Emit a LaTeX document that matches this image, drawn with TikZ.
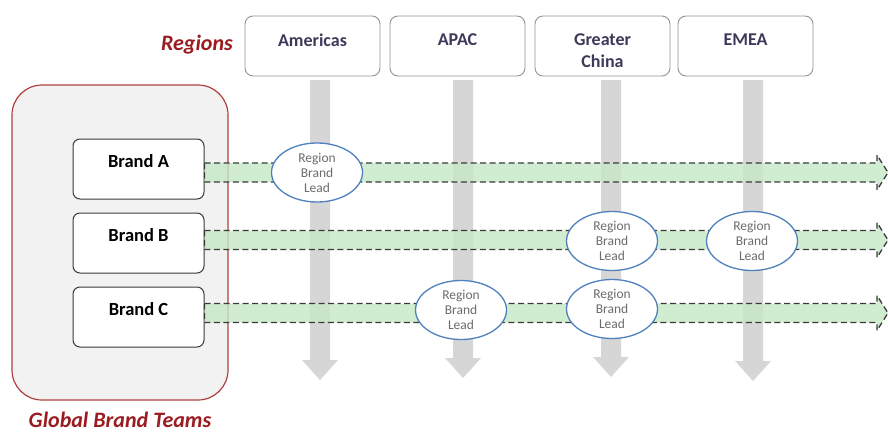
\documentclass[tikz,border=0pt]{standalone}
\usepackage{fontspec}
\setmainfont{Carlito}
\usetikzlibrary{shapes.geometric,calc}
\definecolor{dred}{HTML}{9A1C20}
\definecolor{boxred}{HTML}{B0403F}
\definecolor{regtxt}{HTML}{3C3A5A}
\definecolor{lgreen}{HTML}{C6E8C6}
\definecolor{dgray}{HTML}{3A3A3A}
\definecolor{colgray}{HTML}{D6D6D6}
\definecolor{ellblue}{HTML}{4F81BD}
\tikzset{
  regionbox/.style={draw=gray!85, line width=0.9pt, rounded corners=8pt, fill=white, minimum width=135pt, minimum height=60pt, inner sep=0pt},
  regiontext/.style={font=\fontsize{18}{22}\selectfont\bfseries, text=regtxt, align=center, inner sep=0pt},
  brandbox/.style={draw=dgray, line width=1pt, rounded corners=7pt, fill=white, minimum width=131pt, minimum height=60pt, inner sep=0pt},
  brandtext/.style={font=\fontsize{18.5}{22}\selectfont\bfseries, text=black, inner sep=0pt},
  leadnode/.style={ellipse, draw=ellblue, line width=1.3pt, fill=white, minimum width=91pt, minimum height=59pt, inner sep=0pt, align=center, text=gray!85!black, font=\fontsize{13.5}{15}\selectfont},
  greenband/.style={fill=lgreen, fill opacity=0.8, draw=dgray, dash pattern=on 6pt off 3.5pt, line width=1.3pt, draw opacity=1},
  grayarrow/.style={fill=colgray},
  titletext/.style={font=\fontsize{22}{26}\selectfont\bfseries\itshape, text=dred, inner sep=0pt}
}
\newcommand{\grayarr}[2]{%
  \fill[grayarrow] ($(#1)+(-10,0)$) -- ($(#2)+(-10,-20)$) -- ($(#2)+(-18,-20)$) -- (#2) -- ($(#2)+(18,-20)$) -- ($(#2)+(10,-20)$) -- ($(#1)+(10,0)$) -- cycle;}
\newcommand{\greenarr}[2]{%
  \path[greenband] ($(#1.east |- #2)+(0,-9.5)$) -- ($(#2)+(-11,-9.5)$) -- ($(#2)+(-11,-17.5)$) -- (#2) -- ($(#2)+(-11,17.5)$) -- ($(#2)+(-11,9.5)$) -- ($(#1.east |- #2)+(0,9.5)$) -- cycle;}
\begin{document}
\begin{tikzpicture}[x=1pt,y=-1pt]
\useasboundingbox (0,0) rectangle (888,434);
% global brand teams box
\node[draw=boxred, line width=1.2pt, fill=gray!10, rounded corners=30pt, minimum width=216pt, minimum height=315pt, inner sep=0pt] (global) at (120,242.5) {};
\node[titletext] (globaltitle) at (120,420) {Global Brand Teams};
\node[titletext, anchor=east] (regionstitle) at (233,45) {Regions};
% region boxes
\node[regionbox] (americas) at (312.5,46) {};
\node[regionbox] (apac) at (457.5,46) {};
\node[regionbox] (china) at (602.5,46) {};
\node[regionbox] (emea) at (745.5,46) {};
\node[regiontext] (americast) at (312.5,40) {Americas};
\node[regiontext] (apact) at (457.5,40) {APAC};
\node[regiontext] (chinat) at (602.5,51) {Greater\\China};
\node[regiontext] (emeat) at (745.5,40) {EMEA};
% vertical gray arrows
\coordinate (amtop) at (320,80);
\coordinate (aptop) at (463,80);
\coordinate (chtop) at (611,80);
\coordinate (emtop) at (753,80);
\coordinate (tipam) at (320,380);
\coordinate (tipap) at (463,378);
\coordinate (tipch) at (611,377);
\coordinate (tipem) at (753,381);
\grayarr{amtop}{tipam}
\grayarr{aptop}{tipap}
\grayarr{chtop}{tipch}
\grayarr{emtop}{tipem}
% brand boxes
\node[brandbox] (brandA) at (138.5,169) {};
\node[brandbox] (brandB) at (138.5,243) {};
\node[brandbox] (brandC) at (138.5,317) {};
\node[brandtext] (brandAt) at (138.5,161) {Brand A};
\node[brandtext] (brandBt) at (138.5,235) {Brand B};
\node[brandtext] (brandCt) at (138.5,309) {Brand C};
% green bands
\coordinate (endA) at (888,172.5);
\coordinate (endB) at (888,240);
\coordinate (endC) at (888,313);
\greenarr{brandA}{endA}
\greenarr{brandB}{endB}
\greenarr{brandC}{endC}
% region brand leads
\node[leadnode] (leadA1) at (317,172.5) {Region\\Brand\\Lead};
\node[leadnode] (leadB3) at (612,241) {Region\\Brand\\Lead};
\node[leadnode] (leadB4) at (752,241) {Region\\Brand\\Lead};
\node[leadnode] (leadC2) at (461,310) {Region\\Brand\\Lead};
\node[leadnode] (leadC3) at (612,309) {Region\\Brand\\Lead};
\end{tikzpicture}
\end{document}
